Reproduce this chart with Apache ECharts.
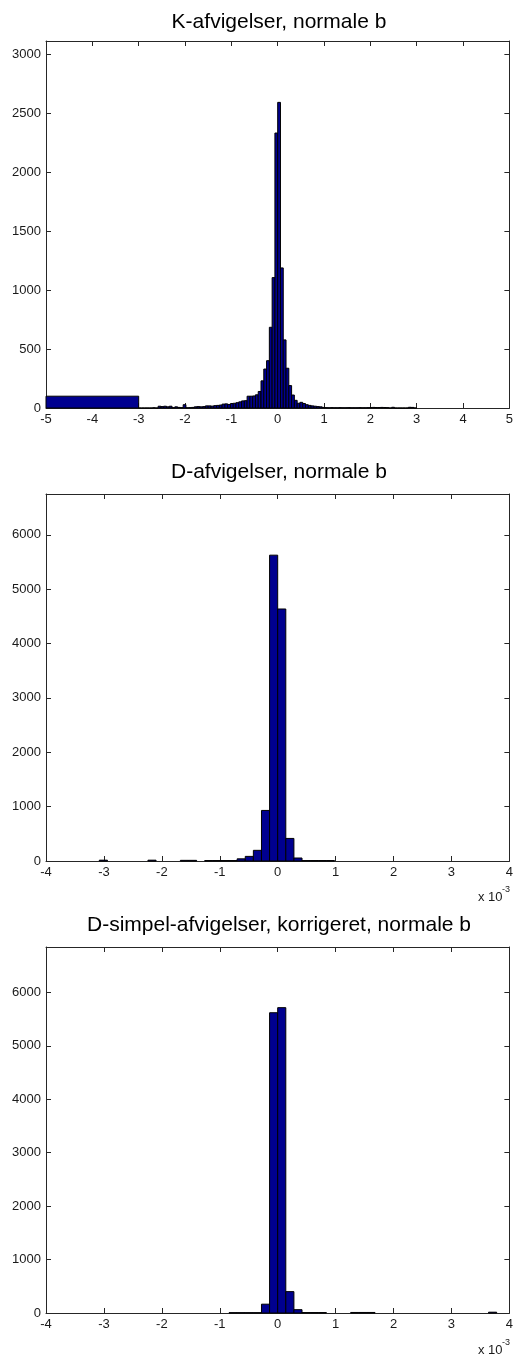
<!DOCTYPE html>
<html>
<head>
<meta charset="utf-8">
<script src="https://cdn.jsdelivr.net/npm/echarts@6/dist/echarts.min.js"></script>
<style>
html, body { margin: 0; padding: 0; background: #fff; }
#chart { width: 516px; height: 1357px; }
</style>
</head>
<body>
<div id="chart"></div>
<script>
// K-afvigelser: bins of 0.06 starting at -3, plus one wide bin from -5 to -3
const kFirstEdge = -3
const kBinWidth = 0.06
const kCounts = [
  0, 0, 0, 0, 0, 2, 0, 15, 12, 15,
  10, 15, 3, 10, 5, 3, 28, 2, 3, 5,
  10, 12, 10, 12, 18, 18, 16, 20, 22, 25,
  33, 35, 30, 38, 40, 45, 52, 60, 62, 100,
  100, 102, 112, 140, 230, 330, 401, 684, 1105, 2330,
  2590, 1187, 577, 337, 190, 110, 65, 40, 48, 38,
  28, 22, 18, 15, 12, 10, 5, 3, 2, 3,
  2, 2, 3, 2, 2, 3, 2, 2, 2, 3,
  2, 2, 3, 4, 5, 4, 4, 5, 4, 3,
  0, 6, 0, 0, 0, 0, 0, 6, 5, 0
]
const kWideBin = [-5, -3, 100]

// D-afvigelser and D-simpel (x 10^-3): bins of 0.14
const dBinWidth = 0.14
const dCenters = [-3.01, -2.17, -1.61, -1.47, -1.19, -1.05, -0.91, -0.77, -0.63, -0.49,
  -0.35, -0.21, -0.07, 0.07, 0.21, 0.35, 0.49, 0.63, 0.77, 0.91]
const dCounts = [15, 15, 12, 12, 8, 8, 8, 8, 40, 85,
  196, 930, 5625, 4635, 415, 55, 8, 8, 8, 8]

const sCenters = [-0.77, -0.63, -0.49, -0.35, -0.21, -0.07, 0.07, 0.21, 0.35, 0.49,
  0.63, 0.77, 1.33, 1.47, 1.61, 3.71]
const sCounts = [6, 6, 6, 6, 165, 5620, 5715, 400, 62, 8,
  8, 8, 10, 10, 10, 15]

const titles = ['K-afvigelser, normale b', 'D-afvigelser, normale b', 'D-simpel-afvigelser, korrigeret, normale b']
const kYTicks = [0, 500, 1000, 1500, 2000, 2500, 3000]
const dYTicks = [0, 1000, 2000, 3000, 4000, 5000, 6000]

const font = '"Liberation Sans", Arial, sans-serif'
const axisColor = '#262626'
const barFill = '#00008f'

let chart = echarts.init(document.getElementById('chart'))

// panel layout (pixels)
const panels = [
  { top: 41, height: 367, titleTop: 12, xMin: -5, xMax: 5, yMax: 3110, yInt: 500, yTicks: kYTicks },
  { top: 494, height: 367, titleTop: 462, xMin: -4, xMax: 4, yMax: 6750, yInt: 1000, yTicks: dYTicks },
  { top: 947, height: 366, titleTop: 915, xMin: -4, xMax: 4, yMax: 6850, yInt: 1000, yTicks: dYTicks }
]

let grids = [], xAxes = [], yAxes = [], titleOpts = []
panels.forEach((p, i) => {
  grids.push({ left: 46, right: 3, top: p.top, height: p.height, containLabel: false })
  titleOpts.push({
    text: titles[i], left: 279, top: p.titleTop, textAlign: 'center', padding: 0,
    textStyle: { fontFamily: font, fontSize: 21, fontWeight: 'normal', color: '#000' }
  })
  // bottom + top x axes (MATLAB box)
  ;['bottom', 'top'].forEach(pos => {
    xAxes.push({
      type: 'value', gridIndex: i, position: pos, min: p.xMin, max: p.xMax, interval: 1,
      axisLine: { show: true, onZero: false, lineStyle: { color: axisColor, width: 1 } },
      axisTick: { show: true, inside: true, length: 5, lineStyle: { color: axisColor } },
      axisLabel: { show: pos === 'bottom', margin: 5, color: '#1a1a1a', fontFamily: font, fontSize: 13,
        formatter: v => String(v) },
      splitLine: { show: false }
    })
  })
  // left + right y axes
  ;['left', 'right'].forEach(pos => {
    yAxes.push({
      type: 'value', gridIndex: i, position: pos, min: 0, max: p.yMax, interval: p.yInt,
      axisLine: { show: true, onZero: false, lineStyle: { color: axisColor, width: 1 } },
      axisTick: { show: true, inside: true, length: 5, customValues: p.yTicks, lineStyle: { color: axisColor } },
      axisLabel: { show: pos === 'left', margin: 5, customValues: p.yTicks, color: '#1a1a1a', fontFamily: font, fontSize: 13,
        formatter: v => String(v) },
      splitLine: { show: false }
    })
  })
})

// histogram bars: [lo, hi, count]
let kData = kCounts.map((c, i) => [kFirstEdge + i * kBinWidth, kFirstEdge + (i + 1) * kBinWidth, c])
kData.unshift(kWideBin)
let dData = dCenters.map((c, i) => [c - dBinWidth / 2, c + dBinWidth / 2, dCounts[i]])
let sData = sCenters.map((c, i) => [c - dBinWidth / 2, c + dBinWidth / 2, sCounts[i]])

function renderBin(params, api) {
  let p0 = api.coord([api.value(0), 0])
  let p1 = api.coord([api.value(1), api.value(2)])
  return {
    type: 'rect',
    shape: { x: p0[0], y: p1[1], width: p1[0] - p0[0], height: p0[1] - p1[1] },
    style: { fill: barFill, stroke: '#000', lineWidth: 1 }
  }
}

let series = [kData, dData, sData].map((d, i) => ({
  type: 'custom',
  xAxisIndex: i * 2,
  yAxisIndex: i * 2,
  renderItem: renderBin,
  encode: { x: [0, 1], y: 2 },
  data: d,
  silent: true,
  animation: false
}))

// "x 10^-3" exponent labels under the lower two x axes
let expLabels = []
;[897, 1350].forEach(y => {
  expLabels.push({ type: 'text', left: 478, top: y - 6, style: { text: 'x 10', font: '13px ' + font, fill: '#1a1a1a' } })
  expLabels.push({ type: 'text', left: 502, top: y - 12, style: { text: '-3', font: '9px ' + font, fill: '#1a1a1a' } })
})

let option = {
  backgroundColor: '#fff',
  animation: false,
  title: titleOpts,
  grid: grids,
  xAxis: xAxes,
  yAxis: yAxes,
  series: series,
  graphic: expLabels
}
chart.setOption(option)
</script>
</body>
</html>
